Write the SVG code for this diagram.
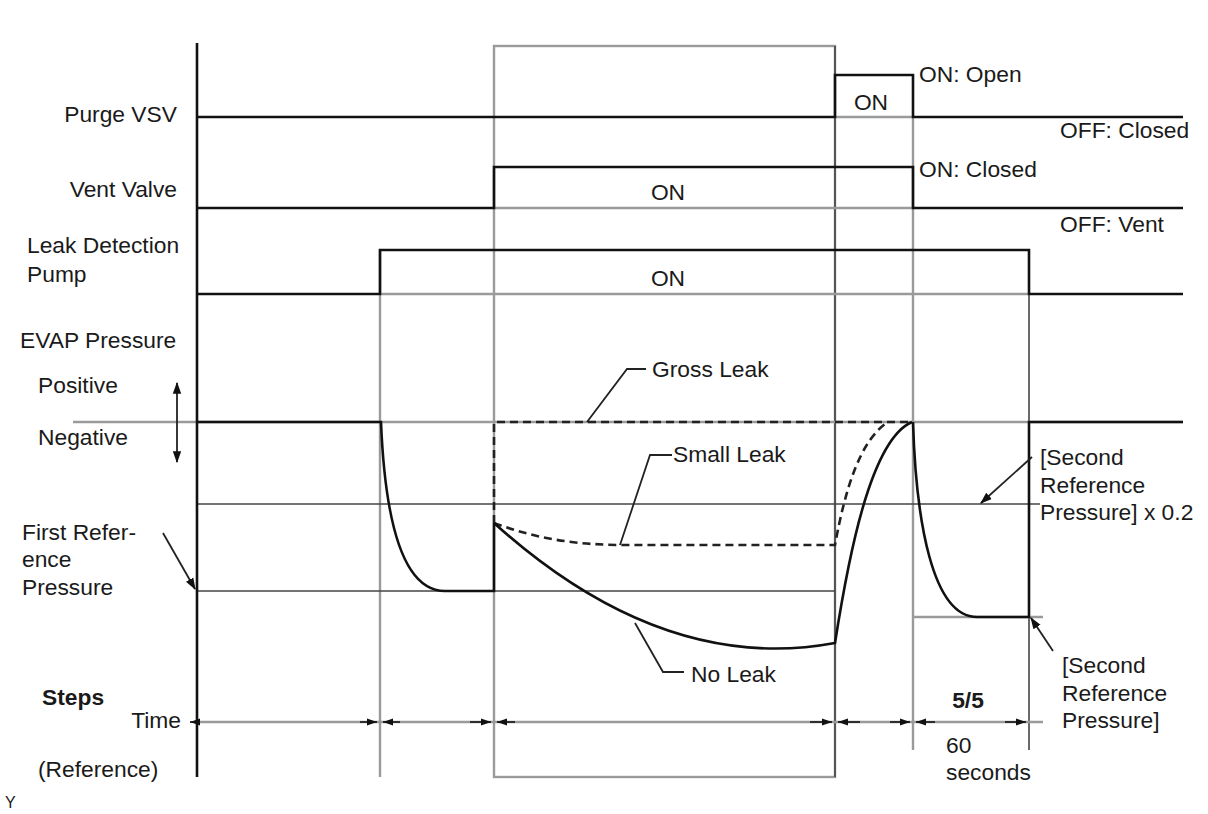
<svg xmlns="http://www.w3.org/2000/svg" width="1208" height="814" viewBox="0 0 1208 814">
<style>
text{font-family:"Liberation Sans",Arial,sans-serif;font-size:22.8px;fill:#1a1a1a}
.b{font-weight:bold}
.sig{fill:none;stroke:#111;stroke-width:2.6}
.ref{fill:none;stroke:#9a9a9a;stroke-width:2.4}
.thin{fill:none;stroke:#444;stroke-width:1.6}
.dash{fill:none;stroke:#222;stroke-width:2.6;stroke-dasharray:8 5}
.lead{fill:none;stroke:#222;stroke-width:1.8}
.ah{fill:#111}
</style>
<defs>
<marker id="arr" viewBox="0 0 10 10" refX="9" refY="5" markerWidth="12" markerHeight="12" orient="auto-start-reverse" markerUnits="userSpaceOnUse">
<path d="M0,1.5 L10,5 L0,8.5 z" class="ah"/>
</marker>
<marker id="tarr" viewBox="0 0 10 10" refX="10" refY="5" markerWidth="10" markerHeight="10" orient="auto-start-reverse" markerUnits="userSpaceOnUse">
<path d="M0,1.5 L10,5 L0,8.5 z" class="ah"/>
</marker>
</defs>
<rect width="1208" height="814" fill="#fff"/>

<g id="grid">
<rect x="494" y="46" width="341" height="731" class="ref" stroke-width="2"/>
<line x1="835" y1="46" x2="835" y2="777" class="thin"/>
<line x1="380" y1="250" x2="380" y2="777" class="ref" stroke-width="2"/>
<line x1="913" y1="117" x2="913" y2="750" class="ref" stroke-width="3"/>
<line x1="1029" y1="250" x2="1029" y2="750" class="thin"/>
<line x1="835" y1="117" x2="913" y2="117" class="ref" stroke-width="2"/>
<line x1="494" y1="208" x2="913" y2="208" class="ref" stroke-width="2"/>
<line x1="380" y1="294" x2="1029" y2="294" class="ref" stroke-width="2"/>
<line x1="73" y1="422" x2="1183" y2="422" class="ref"/>
<line x1="197" y1="504" x2="1040" y2="504" class="thin"/>
<line x1="197" y1="591" x2="835" y2="591" class="thin"/>
<line x1="913" y1="617" x2="1043" y2="617" class="ref"/>
<line x1="197" y1="43" x2="197" y2="777" class="sig" stroke-width="3"/>
</g>

<g id="purge-vsv">
<polyline points="197,117 835,117 835,75 913,75 913,117 1183,117" class="sig"/>
<text x="177" y="122" text-anchor="end">Purge VSV</text>
<text x="871" y="110" text-anchor="middle">ON</text>
<text x="919" y="82">ON: Open</text>
<text x="1060" y="138">OFF: Closed</text>
</g>

<g id="vent-valve">
<polyline points="197,208 494,208 494,167 913,167 913,208 1183,208" class="sig"/>
<text x="177" y="197" text-anchor="end">Vent Valve</text>
<text x="668" y="200" text-anchor="middle">ON</text>
<text x="919" y="177">ON: Closed</text>
<text x="1060" y="232">OFF: Vent</text>
</g>

<g id="leak-detection-pump">
<polyline points="197,294 380,294 380,250 1029,250 1029,294 1183,294" class="sig"/>
<text x="27" y="253">Leak Detection</text>
<text x="27" y="282">Pump</text>
<text x="668" y="286" text-anchor="middle">ON</text>
</g>

<g id="evap-pressure">
<text x="20" y="348">EVAP Pressure</text>
<text x="38" y="393">Positive</text>
<text x="38" y="445">Negative</text>
<line x1="177" y1="383" x2="177" y2="462" class="lead" marker-start="url(#arr)" marker-end="url(#arr)"/>
<text x="22" y="540">First Refer-</text>
<text x="22" y="567">ence</text>
<text x="22" y="595">Pressure</text>
<line x1="163" y1="533" x2="195" y2="589" class="lead" marker-end="url(#arr)"/>
<path d="M197,422 L381,422 C385,520 402,591 445,591 L494,591 L494,523" class="sig"/>
<path d="M494,523 L494,422 L912,422" class="dash"/>
<path d="M494,523 C540,540 580,545 625,545 L835,545 C845,490 860,440 888,422" class="dash"/>
<path d="M494,523 C585,605 700,668 835,643 C848,560 870,440 912,422" class="sig"/>
<path d="M913,422 C916,520 932,617 977,617 L1029,617 L1029,422 L1183,422" class="sig"/>
</g>

<g id="labels">
<polyline points="646,369 627,369 587,422" class="lead"/>
<text x="652" y="377">Gross Leak</text>
<polyline points="672,455 650,455 620,545" class="lead"/>
<text x="673" y="462">Small Leak</text>
<polyline points="684,672 663,672 635,623" class="lead"/>
<text x="691" y="682">No Leak</text>
<line x1="1032" y1="457" x2="981" y2="503" class="lead" marker-end="url(#arr)"/>
<text x="1040" y="465">[Second</text>
<text x="1040" y="493">Reference</text>
<text x="1040" y="520">Pressure] x 0.2</text>
<line x1="1053" y1="651" x2="1031" y2="618" class="lead" marker-end="url(#arr)"/>
<text x="1062" y="673">[Second</text>
<text x="1062" y="701">Reference</text>
<text x="1062" y="728">Pressure]</text>
</g>

<g id="time-axis">
<line x1="197" y1="722" x2="1043" y2="722" class="ref" stroke-width="3"/>
<g class="lead" stroke-width="0">
<line x1="190" y1="722" x2="200" y2="722" marker-start="url(#tarr)"/>
<line x1="360" y1="722" x2="377" y2="722" marker-end="url(#tarr)"/>
<line x1="383" y1="722" x2="400" y2="722" marker-start="url(#tarr)"/>
<line x1="470" y1="722" x2="491" y2="722" marker-end="url(#tarr)"/>
<line x1="497" y1="722" x2="515" y2="722" marker-start="url(#tarr)"/>
<line x1="810" y1="722" x2="832" y2="722" marker-end="url(#tarr)"/>
<line x1="838" y1="722" x2="860" y2="722" marker-start="url(#tarr)"/>
<line x1="890" y1="722" x2="910" y2="722" marker-end="url(#tarr)"/>
<line x1="916" y1="722" x2="935" y2="722" marker-start="url(#tarr)"/>
<line x1="1005" y1="722" x2="1026" y2="722" marker-end="url(#tarr)"/>
</g>
<text x="42" y="705" class="b">Steps</text>
<text x="181" y="728" text-anchor="end">Time</text>
<text x="38" y="777">(Reference)</text>
<text x="968" y="708" text-anchor="middle" class="b">5/5</text>
<text x="946" y="753">60</text>
<text x="946" y="780">seconds</text>
<text x="5" y="808" style="font-size:16px">Y</text>
</g>
</svg>
